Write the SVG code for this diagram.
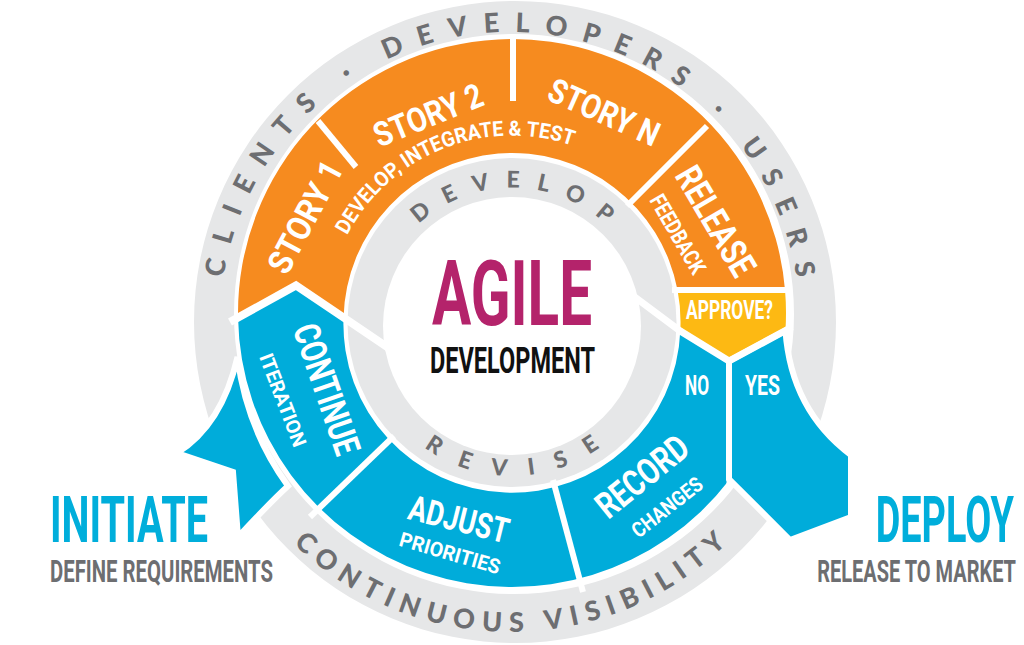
<svg xmlns="http://www.w3.org/2000/svg" width="1024" height="645" viewBox="0 0 1024 645">
<defs>
<style>
.gray{fill:#e6e7e8}
.org{fill:#f68b1f}
.blu{fill:#00acda}
.yel{fill:#fdb913}
.rib{fill:#00acda;stroke:#fff;stroke-width:6;stroke-linejoin:miter}
.cut{fill:none;stroke:#fff;stroke-width:6;stroke-linejoin:miter}
.b{font-family:Roboto,'Liberation Sans',sans-serif;font-weight:700}
.w{fill:#fff}
.rt{font-family:Lato,'Liberation Sans',sans-serif;font-weight:900;fill:#6d6e71}
</style>
<path id="arcOuterTop" d="M 220,322 A 290 290 0 0 1 800,322"/>
<path id="arcOuterBot" d="M 200,322 A 310 310 0 0 0 820,322"/>
<path id="arcInnerTop" d="M 373.5,326 A 138.5 138.5 0 0 1 650.5,326"/>
<path id="arcInnerBot" d="M 362,326 A 150 150 0 0 0 662,326"/>
<path id="arcSub" d="M 326,321.5 A 186 186 0 0 1 698,321.5"/>
</defs>
<rect width="1024" height="645" fill="#fff"/>

<g id="outer-ring">
<path class="gray" fill-rule="evenodd" d="M 194,322 A 321 321 0 1 1 836,322 A 321 321 0 1 1 194,322 Z M 234,314 A 280 280 0 1 0 794,314 A 280 280 0 1 0 234,314 Z"/>
<text class="rt" font-size="27" text-anchor="middle"><textPath href="#arcOuterTop" startOffset="50%" textLength="822" lengthAdjust="spacing">CLIENTS · DEVELOPERS · USERS</textPath></text>
<text class="rt" font-size="27" text-anchor="middle"><textPath href="#arcOuterBot" startOffset="50%" textLength="480" lengthAdjust="spacing">CONTINUOUS VISIBILITY</textPath></text>
</g>

<g id="inner-ring">
<circle class="gray" cx="512" cy="322.5" r="164.5"/>
<circle fill="#fff" cx="512" cy="326" r="129"/>
<text class="rt" font-size="23" text-anchor="middle"><textPath href="#arcInnerTop" startOffset="50%" textLength="205" lengthAdjust="spacing">DEVELOP</textPath></text>
<text class="rt" font-size="23" text-anchor="middle"><textPath href="#arcInnerBot" startOffset="50%" textLength="188" lengthAdjust="spacing">REVISE</textPath></text>
</g>

<g id="band">
<path class="org" d="M 238.04,317.5 A 274 274 0 0 1 785.03,290 L 677.53,290 A 168.5 168.5 0 0 0 343.55,317.5 L 296,285.5 Z"/>
<path class="yel" d="M 677.53,290 L 785.03,290 A 274 274 0 0 1 785.44,330.5 L 729,361 L 680.3,331 A 168.5 168.5 0 0 0 677.53,290 Z"/>
<path class="blu" d="M 238.04,317.5 L 296,285.5 L 343.55,317.5 A 168.5 168.5 0 0 0 680.3,331 L 729,361 L 729,480.3 A 274 274 0 0 1 238.04,317.5 Z"/>
</g>

<g id="connectors">
<path id="initiate-ribbon" class="rib" d="M 237.5,357 Q 222,425 177,453 L 233,472 L 238,537 Q 271,501.5 288,486 A 278 278 0 0 1 237.5,357 Z"/>
<path id="deploy-ribbon" class="rib" d="M 729,361 L 785.44,330.5 Q 791,410 851,455 L 851,517 L 790,540 L 729,479 Z"/>
<path class="cut" d="M 318,121 L 356,167"/>
<path class="cut" d="M 513,34 L 513,101"/>
<path class="cut" d="M 707,126 L 627,206"/>
<path class="cut" d="M 394,436 L 310,517"/>
<path class="cut" d="M 553,480 L 583,592"/>
<path class="cut" style="stroke-width:5" d="M 729,360 L 729,485"/>
<path class="cut" style="stroke-width:8" d="M 230,322 L 296,285.5 L 343.55,317.5 L 396,353"/>
<path class="cut" d="M 672,290 L 792,290"/>
<path class="cut" style="stroke-width:7" d="M 628,292 L 680.3,331 L 729,361 L 792,327"/>
</g>

<g id="story1"><text class="b w" font-size="34" text-anchor="middle" textLength="122" lengthAdjust="spacingAndGlyphs" transform="translate(305,217) rotate(-62)" y="12">STORY 1</text></g>
<g id="story2"><text class="b w" font-size="34" text-anchor="middle" textLength="115" lengthAdjust="spacingAndGlyphs" transform="translate(428,115) rotate(-22)" y="12">STORY 2</text></g>
<g id="storyN"><text class="b w" font-size="34" text-anchor="middle" textLength="118" lengthAdjust="spacingAndGlyphs" transform="translate(604,112) rotate(24)" y="12">STORY N</text></g>
<g id="develop-sub"><text class="b w" font-size="21" text-anchor="middle"><textPath href="#arcSub" startOffset="221.6" textLength="264" lengthAdjust="spacingAndGlyphs">DEVELOP, INTEGRATE &amp; TEST</textPath></text></g>
<g id="release"><text class="b w" font-size="36.6" text-anchor="middle" textLength="121" lengthAdjust="spacingAndGlyphs" transform="translate(716,221) rotate(59.5)" y="13">RELEASE</text>
<text class="b w" font-size="22.5" text-anchor="middle" textLength="88" lengthAdjust="spacingAndGlyphs" transform="translate(678,234) rotate(60)" y="8">FEEDBACK</text></g>
<g id="approve"><text class="b w" font-size="25.3" text-anchor="middle" textLength="87" lengthAdjust="spacingAndGlyphs" x="729.5" y="319">APPROVE?</text></g>
<g id="no"><text class="b w" font-size="28" text-anchor="middle" textLength="24" lengthAdjust="spacingAndGlyphs" x="697" y="395">NO</text></g>
<g id="yes"><text class="b w" font-size="28" text-anchor="middle" textLength="35" lengthAdjust="spacingAndGlyphs" x="762.5" y="395">YES</text></g>
<g id="continue"><text class="b w" font-size="36.6" text-anchor="middle" textLength="136" lengthAdjust="spacingAndGlyphs" transform="translate(327,389) rotate(71)" y="13">CONTINUE</text>
<text class="b w" font-size="19.7" text-anchor="middle" textLength="98" lengthAdjust="spacingAndGlyphs" transform="translate(283,400) rotate(69)" y="7">ITERATION</text></g>
<g id="adjust"><text class="b w" font-size="35" text-anchor="middle" textLength="102" lengthAdjust="spacingAndGlyphs" transform="translate(459,519) rotate(14)" y="12.5">ADJUST</text>
<text class="b w" font-size="20.4" text-anchor="middle" textLength="104" lengthAdjust="spacingAndGlyphs" transform="translate(450,553) rotate(16)" y="7.2">PRIORITIES</text></g>
<g id="record"><text class="b w" font-size="36.6" text-anchor="middle" textLength="108" lengthAdjust="spacingAndGlyphs" transform="translate(642,476) rotate(-39)" y="13">RECORD</text>
<text class="b w" font-size="21" text-anchor="middle" textLength="84" lengthAdjust="spacingAndGlyphs" transform="translate(667,507) rotate(-38)" y="7.5">CHANGES</text></g>
<g id="center"><text class="b" fill="#b4236b" font-size="91.4" text-anchor="middle" textLength="160" lengthAdjust="spacingAndGlyphs" x="512" y="325">AGILE</text>
<text class="b" fill="#111" font-size="36.6" text-anchor="middle" textLength="165" lengthAdjust="spacingAndGlyphs" x="512.5" y="373">DEVELOPMENT</text></g>
<g id="initiate"><text class="b" fill="#00aedb" font-size="64.7" textLength="158" lengthAdjust="spacingAndGlyphs" x="50" y="542">INITIATE</text>
<text class="b" fill="#6d6e71" font-size="31" textLength="223" lengthAdjust="spacingAndGlyphs" x="50" y="582">DEFINE REQUIREMENTS</text></g>
<g id="deploy"><text class="b" fill="#00aedb" font-size="64.7" text-anchor="end" transform="translate(1014,542) scale(0.585,1)">DEPLOY</text>
<text class="b" fill="#6d6e71" font-size="31" text-anchor="end" transform="translate(1016,582) scale(0.645,1)">RELEASE TO MARKET</text></g>
</svg>
